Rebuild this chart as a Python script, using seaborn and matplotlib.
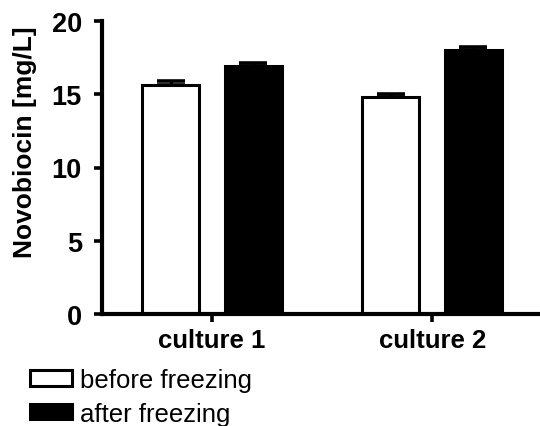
import matplotlib
matplotlib.use("Agg")
import matplotlib.pyplot as plt
import seaborn as sns
import pandas as pd

# Novobiocin titres per culture, before and after freezing
cultures = ["culture 1", "culture 2"]
conditions = ["before freezing", "after freezing"]
before_mean = [15.6, 14.8]
after_mean = [16.95, 18.05]
before_err = [0.3, 0.2]
after_err = [0.2, 0.2]
y_ticks = [0, 5, 10, 15, 20]

df = pd.DataFrame({
    "culture": cultures * 2,
    "condition": [conditions[0]] * 2 + [conditions[1]] * 2,
    "value": before_mean + after_mean,
    "err": before_err + after_err,
})

sns.set_style("white")
plt.rcParams["font.family"] = ["Liberation Sans", "DejaVu Sans"]
plt.rcParams["text.color"] = "black"
plt.rcParams["axes.labelcolor"] = "black"
plt.rcParams["xtick.color"] = "black"
plt.rcParams["ytick.color"] = "black"

fig = plt.figure(figsize=(5.4, 4.27), dpi=100)
ax = fig.add_axes([102 / 540, 1 - 315 / 427, 1 - 102 / 540, (315 - 22) / 427])

sns.barplot(data=df, x="culture", y="value", hue="condition",
            hue_order=conditions, order=cultures,
            palette=["white", "black"], edgecolor="black", linewidth=2.2,
            width=0.75, gap=0.31, errorbar=None, ax=ax, saturation=1)

# upper-only error bars centred on each bar
for patch, (_, row) in zip(ax.patches, df.iterrows()):
    cx = patch.get_x() + patch.get_width() / 2
    ax.errorbar([cx], [row["value"]], yerr=[[0], [row["err"]]], fmt="none",
                ecolor="black", elinewidth=2.4, capsize=10, capthick=2.6,
                zorder=5)

handles, labels = ax.get_legend_handles_labels()
ax.get_legend().remove()

ax.set_xlim(-0.5, 1.49)
ax.set_ylim(0, 20)
ax.set_yticks(y_ticks)
ax.set_xlabel("")
ax.set_ylabel("Novobiocin [mg/L]", fontsize=19, fontweight="bold")
ax.yaxis.set_label_coords(-0.149, 0.59)

sns.despine(ax=ax)
for side in ("left", "bottom"):
    ax.spines[side].set_linewidth(3)
    ax.spines[side].set_color("black")
ax.tick_params(axis="both", which="major", direction="out", length=6,
               width=2.6, color="black", left=True, bottom=True)
ax.tick_params(axis="y", labelsize=19.5, pad=8.5)
ax.tick_params(axis="x", labelsize=18.5, pad=4)
for lab in ax.get_xticklabels() + ax.get_yticklabels():
    lab.set_fontweight("bold")

fig.legend(handles, labels, loc="upper left",
           bbox_to_anchor=(30 / 540, 1 - 369 / 427), frameon=False,
           fontsize=18.5, handlelength=1.65, handleheight=0.55,
           handletextpad=0.3, labelspacing=0.38, borderpad=0,
           borderaxespad=0)

fig.savefig("out.png", dpi=100)
